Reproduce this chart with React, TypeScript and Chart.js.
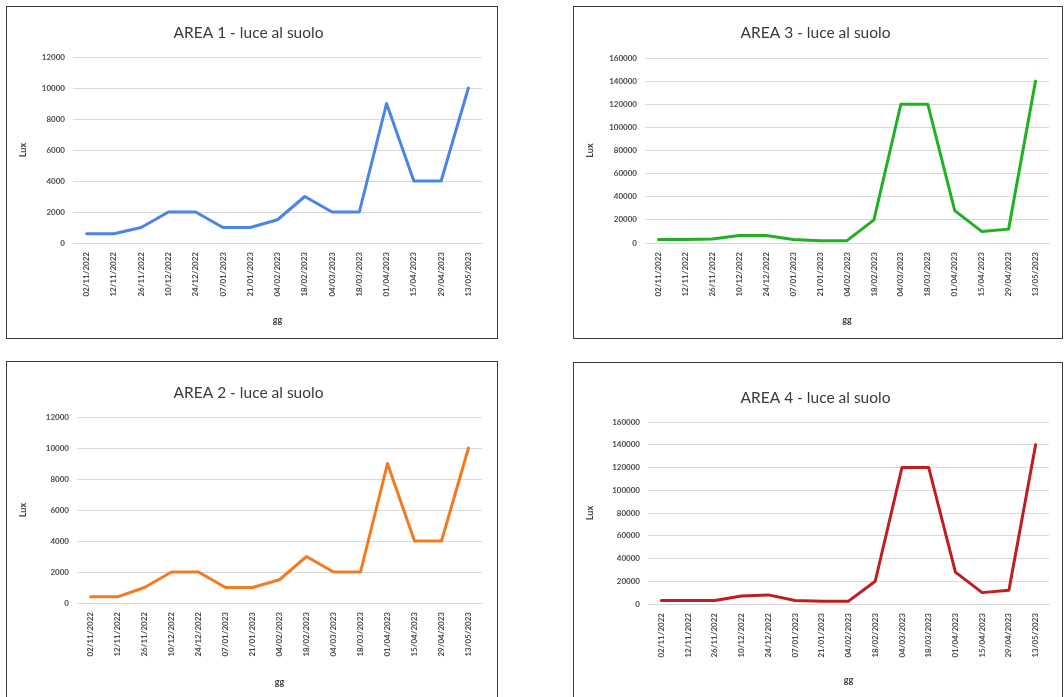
import React, { useEffect, useRef } from "react";
import { Chart, registerables } from "chart.js";

Chart.register(...registerables);

const dates = [
  "02/11/2022", "12/11/2022", "26/11/2022", "10/12/2022", "24/12/2022",
  "07/01/2023", "21/01/2023", "04/02/2023", "18/02/2023", "04/03/2023",
  "18/03/2023", "01/04/2023", "15/04/2023", "29/04/2023", "13/05/2023",
];

const area1 = [600, 600, 1000, 2000, 2000, 1000, 1000, 1500, 3000, 2000, 2000, 9000, 4000, 4000, 10000];
const area2 = [400, 400, 1000, 2000, 2000, 1000, 1000, 1500, 3000, 2000, 2000, 9000, 4000, 4000, 10000];
const area3 = [3000, 3000, 3500, 6500, 6500, 3000, 2000, 2000, 20000, 120000, 120000, 28000, 10000, 12000, 140000];
const area4 = [3000, 3000, 3000, 7000, 8000, 3000, 2500, 2500, 20000, 120000, 120000, 28000, 10000, 12000, 140000];

const titles = ["AREA 1 - luce al suolo", "AREA 2 - luce al suolo", "AREA 3 - luce al suolo", "AREA 4 - luce al suolo"];
const yAxisTitle = "Lux";
const xAxisTitle = "gg";

const FONT = "Lato, 'Open Sans', sans-serif";

type PanelProps = {
  left: number; top: number; width: number; height: number;
  title: string; values: number[]; color: string; yMax: number; yStep: number;
  plotLeft: number; plotRight: number; plotTop: number; plotBottom: number;
  titleY: number; ggY: number;
};

function Panel(p: PanelProps) {
  const ref = useRef<HTMLCanvasElement>(null);
  const W = p.width - 2;
  const H = p.height - 2;
  useEffect(() => {
    const titleSize = 15.5;
    const tlh = titleSize * 1.2;
    const axSize = 8;
    const alh = 9 * 1.2;
    const padLeft = 8;
    const chart = new Chart(ref.current!, {
      type: "line",
      data: {
        labels: dates,
        datasets: [{
          data: p.values,
          borderColor: p.color,
          backgroundColor: p.color,
          borderWidth: 3,
          pointRadius: 0,
          tension: 0,
          borderJoinStyle: "round",
          borderCapStyle: "round",
        }],
      },
      options: {
        animation: false,
        responsive: false,
        devicePixelRatio: 1,
        layout: { padding: { left: padLeft, right: W - p.plotRight, top: 0, bottom: 0 } },
        plugins: {
          legend: { display: false },
          tooltip: { enabled: false },
          title: {
            display: true,
            text: p.title,
            color: "#3a3a3a",
            font: { family: FONT, size: titleSize, weight: "normal" },
            padding: { top: p.titleY - tlh / 2, bottom: p.plotTop - (p.titleY + tlh / 2) },
          },
        },
        scales: {
          x: {
            type: "category",
            offset: true,
            grid: { display: false, drawTicks: false },
            border: { display: true, color: "#d9d9d9", width: 1 },
            ticks: {
              autoSkip: false,
              minRotation: 90,
              maxRotation: 90,
              padding: 9,
              color: "#4a4a4a",
              font: { family: FONT, size: axSize, weight: "bold" },
            },
            title: {
              display: true,
              text: xAxisTitle,
              color: "#404040",
              font: { family: FONT, size: 9, weight: "bold" },
              padding: { top: 0, bottom: H - p.ggY - alh / 2 },
            },
            afterFit: (s: any) => { s.height = H - p.plotBottom; },
          },
          y: {
            min: 0,
            max: p.yMax,
            grid: { color: "#d9d9d9", drawTicks: false, lineWidth: 1 },
            border: { display: false },
            ticks: {
              stepSize: p.yStep,
              padding: 8,
              color: "#4a4a4a",
              font: { family: FONT, size: axSize, weight: "bold" },
              callback: (v: any) => String(v),
            },
            title: {
              display: true,
              text: yAxisTitle,
              color: "#404040",
              font: { family: FONT, size: 9, weight: "bold" },
              padding: { top: 3, bottom: 0 },
            },
            afterFit: (s: any) => { s.width = p.plotLeft - padLeft; },
          },
        },
      },
    });
    return () => chart.destroy();
  }, []);
  return (
    <div style={{
      position: "absolute", left: p.left, top: p.top, width: p.width, height: p.height,
      boxSizing: "border-box", border: "1px solid #3a3a3a", background: "#fff",
    }}>
      <canvas ref={ref} width={W} height={H} style={{ display: "block", width: W, height: H }} />
    </div>
  );
}

export default function App() {
  return (
    <div style={{ position: "fixed", left: 0, top: 0, width: 1064, height: 697, background: "#fff", overflow: "hidden" }}>
      <Panel left={6} top={6} width={492} height={333} title={titles[0]} values={area1} color="#4a84e4"
        yMax={12000} yStep={2000} plotLeft={66} plotRight={475} plotTop={50} plotBottom={236} titleY={26} ggY={313} />
      <Panel left={573} top={6} width={490} height={333} title={titles[2]} values={area3} color="#22b022"
        yMax={160000} yStep={20000} plotLeft={71} plotRight={475} plotTop={51} plotBottom={236} titleY={26} ggY={313} />
      <Panel left={6} top={361} width={492} height={345} title={titles[1]} values={area2} color="#f47a22"
        yMax={12000} yStep={2000} plotLeft={70} plotRight={475} plotTop={55} plotBottom={241} titleY={31} ggY={320} />
      <Panel left={573} top={362} width={490} height={345} title={titles[3]} values={area4} color="#c01e1e"
        yMax={160000} yStep={20000} plotLeft={74} plotRight={475} plotTop={59} plotBottom={241} titleY={35} ggY={317} />
    </div>
  );
}
